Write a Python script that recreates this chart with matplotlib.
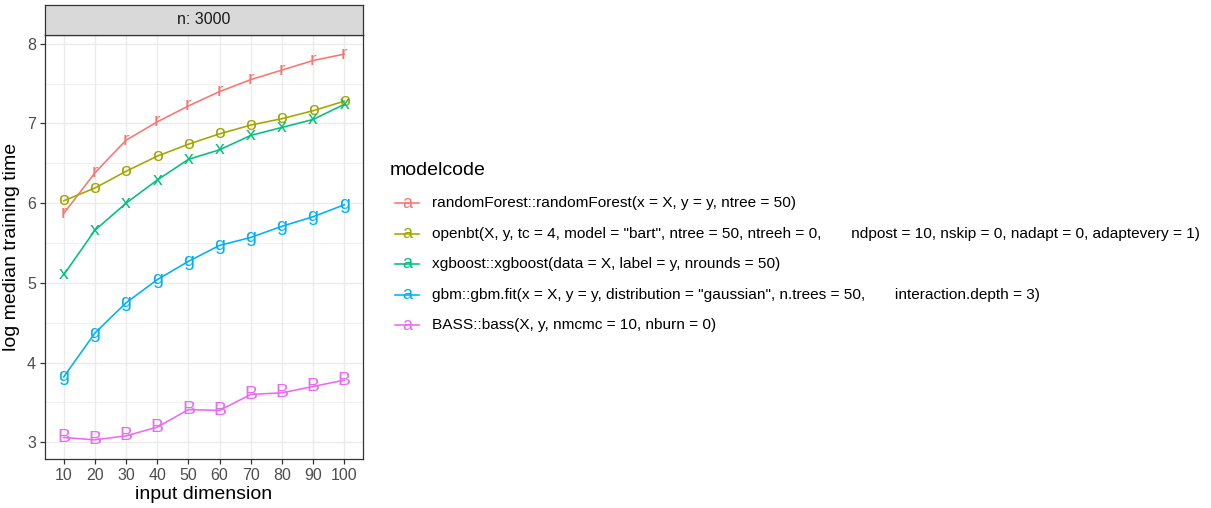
import numpy as np
import matplotlib.pyplot as plt
from matplotlib.lines import Line2D

plt.rcParams['font.family'] = ['Liberation Sans', 'DejaVu Sans']

dims = [10, 20, 30, 40, 50, 60, 70, 80, 90, 100]

models = [
    'randomForest::randomForest(x = X, y = y, ntree = 50)',
    'openbt(X, y, tc = 4, model = "bart", ntree = 50, ntreeh = 0,       ndpost = 10, nskip = 0, nadapt = 0, adaptevery = 1)',
    'xgboost::xgboost(data = X, label = y, nrounds = 50)',
    'gbm::gbm.fit(x = X, y = y, distribution = "gaussian", n.trees = 50,       interaction.depth = 3)',
    'BASS::bass(X, y, nmcmc = 10, nburn = 0)',
]
letters = ['r', 'o', 'x', 'g', 'B']
colors = ['#F8766D', '#A3A500', '#00BF7D', '#00B0F6', '#E76BF3']

rf_time = [5.87, 6.38, 6.79, 7.02, 7.22, 7.40, 7.55, 7.67, 7.79, 7.87]
openbt_time = [6.03, 6.19, 6.40, 6.59, 6.74, 6.87, 6.98, 7.06, 7.16, 7.28]
xgb_time = [5.10, 5.66, 6.00, 6.29, 6.55, 6.67, 6.85, 6.95, 7.05, 7.24]
gbm_time = [3.82, 4.37, 4.75, 5.04, 5.27, 5.47, 5.57, 5.71, 5.83, 5.98]
bass_time = [3.06, 3.03, 3.08, 3.19, 3.41, 3.40, 3.60, 3.62, 3.70, 3.78]
series = [rf_time, openbt_time, xgb_time, gbm_time, bass_time]

W, H = 1211, 508
fig = plt.figure(figsize=(W / 100, H / 100), dpi=100)

# panel in pixel coords: left 45, right 363, top 35, bottom 459
L, R, T, B = 45, 363, 35, 459
ax = fig.add_axes([L / W, 1 - B / H, (R - L) / W, (B - T) / H])

pos = np.arange(1, len(dims) + 1)
for vals, ch, col in zip(series, letters, colors):
    ax.plot(pos, vals, color=col, lw=1.15, zorder=3)
    for xi, yi in zip(pos, vals):
        ax.text(xi, yi, ch, color=col, fontsize=14, ha='center', va='center', zorder=4)

ax.set_xlim(0.4, 10.6)
ax.set_ylim(2.79, 8.11)
ax.set_xticks(pos)
ax.set_xticklabels([str(d) for d in dims])
ax.set_yticks([3, 4, 5, 6, 7, 8])
ax.set_yticks([3.5, 4.5, 5.5, 6.5, 7.5], minor=True)
ax.grid(True, which='major', color='#EBEBEB', lw=1.0)
ax.grid(True, which='minor', axis='y', color='#EBEBEB', lw=0.5)
ax.set_axisbelow(True)
for sp in ax.spines.values():
    sp.set_color('#333333')
    sp.set_linewidth(0.9)
ax.tick_params(axis='both', which='major', labelsize=11.5, labelcolor='#4D4D4D',
               color='#333333', length=3.5, width=0.9, pad=3)
ax.tick_params(axis='both', which='minor', length=0)
ax.set_xlabel('input dimension', fontsize=14, labelpad=2)
ax.set_ylabel('log median training time', fontsize=14, labelpad=5)

# facet strip
strip = fig.add_axes([L / W, 1 - T / H, (R - L) / W, 30 / H])
strip.set_facecolor('#D9D9D9')
strip.set_xticks([])
strip.set_yticks([])
for sp in strip.spines.values():
    sp.set_color('#333333')
    sp.set_linewidth(0.9)
strip.text(0.5, 0.5, 'n: 3000', ha='center', va='center', fontsize=11.5, color='#1A1A1A',
           transform=strip.transAxes)

# legend
fig.text(390 / W, 1 - 170 / H, 'modelcode', fontsize=14, ha='left', va='center')
for i, (name, col) in enumerate(zip(models, colors)):
    yy = 1 - (203 + i * 30.5) / H
    fig.add_artist(Line2D([395 / W, 419 / W], [yy, yy], color=col, lw=1.15, transform=fig.transFigure))
    fig.text(407 / W, yy, 'a', color=col, fontsize=13, ha='center', va='center')
    fig.text(432 / W, yy, name, fontsize=11.1, ha='left', va='center')

fig.savefig('out.png', dpi=100)
